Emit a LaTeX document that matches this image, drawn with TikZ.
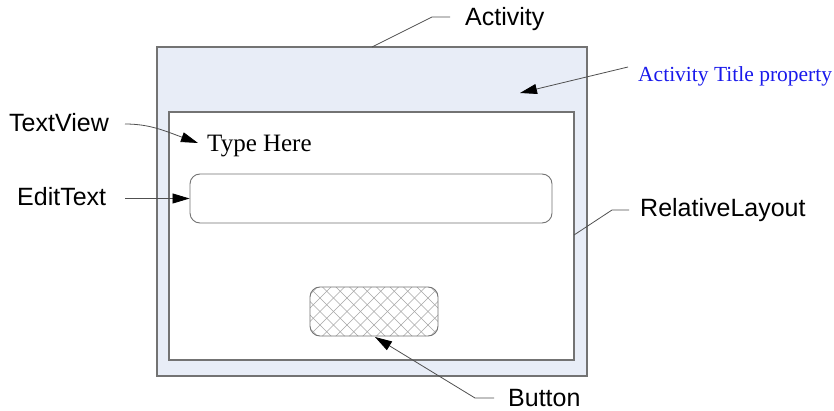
\documentclass[tikz,border=0pt]{standalone}
\usepackage{fontspec}
\setmainfont{Liberation Serif}
\setsansfont{Liberation Sans}
\usetikzlibrary{arrows.meta}
\definecolor{actfill}{RGB}{232,237,247}
\definecolor{boxline}{RGB}{115,115,115}
\definecolor{leader}{RGB}{80,80,80}
\definecolor{titleblue}{RGB}{25,25,235}
\begin{document}
\begin{tikzpicture}[x=1pt, y=-1pt,
          box/.style={draw=boxline, line width=1.3pt, inner sep=0pt},
          widget/.style={draw=boxline, line width=0.9pt, rounded corners=10pt, inner sep=0pt, minimum height=49pt},
          lbl/.style={font=\sffamily\fontsize{25}{30}\selectfont, inner sep=0pt},
          lead/.style={draw=leader, line width=0.8pt},
          tip/.style={lead, -{Triangle[length=17pt,width=10pt,color=black]}}
        ]
          \useasboundingbox (0,0) rectangle (834,411);

          % the screen
          \node[box, fill=actfill, minimum width=430pt, minimum height=329pt] (act) at (372,211.5) {};
          \node[box, fill=white, minimum width=405pt, minimum height=248pt] (layout) at (371.5,236) {};
          \node[widget, minimum width=362pt] (edit) at (371,198.5) {};
          \node[widget, minimum width=128pt,
                path picture={
                  \foreach \k in {-10,...,10}{
                    \draw[gray!70, line width=0.5pt] ([xshift=\k*13.5pt]path picture bounding box.center) ++(-70pt,-70pt) -- ++(140pt,140pt);
                    \draw[gray!70, line width=0.5pt] ([xshift=\k*13.5pt]path picture bounding box.center) ++(-70pt,70pt) -- ++(140pt,-140pt);
                  }
                }] (button) at (374,311.5) {};
          \node[anchor=base west, inner sep=0pt, font=\fontsize{25}{30}\selectfont] (typehere) at (207,152) {Type Here};

          % labels
          \node[lbl, anchor=base west] (actlbl) at (465,26) {Activity};
          \node[anchor=base west, inner sep=0pt, text=titleblue, font=\fontsize{21.5}{26}\selectfont] (titlelbl) at (638,81.5) {Activity Title property};
          \node[lbl, anchor=base west] (tvlbl) at (9,131.5) {TextView};
          \node[lbl, anchor=base west] (etlbl) at (17,206) {EditText};
          \node[lbl, anchor=base west] (rllbl) at (640,217) {RelativeLayout};
          \node[lbl, anchor=base west] (btnlbl) at (508,406) {Button};

          % leader points
          \coordinate (actpt) at (372,47);
          \coordinate (actbend) at (432,17);
          \coordinate (actend) at (450,17);
          \coordinate (titlept) at (520,93);
          \coordinate (titleend) at (628,67);
          \coordinate (tvend) at (125,124);
          \coordinate (tvpt) at (198,143);
          \coordinate (etend) at (125,198.5);
          \coordinate (rlpt) at (574,235);
          \coordinate (rlbend) at (612,210);
          \coordinate (rlend) at (629,210);
          \coordinate (btnpt) at (375,337);
          \coordinate (btnbend) at (475,398);
          \coordinate (btnend) at (494,398);

          \draw[lead] (actpt) -- (actbend) -- (actend);
          \draw[tip] (titleend) -- (titlept);
          \draw[tip] (tvend) .. controls (150,124) and (165,131) .. (tvpt);
          \draw[tip] (etend) -- (edit.west);
          \draw[lead] (rlpt) -- (rlbend) -- (rlend);
          \draw[tip] (btnend) -- (btnbend) -- (btnpt);
        \end{tikzpicture}
\end{document}
